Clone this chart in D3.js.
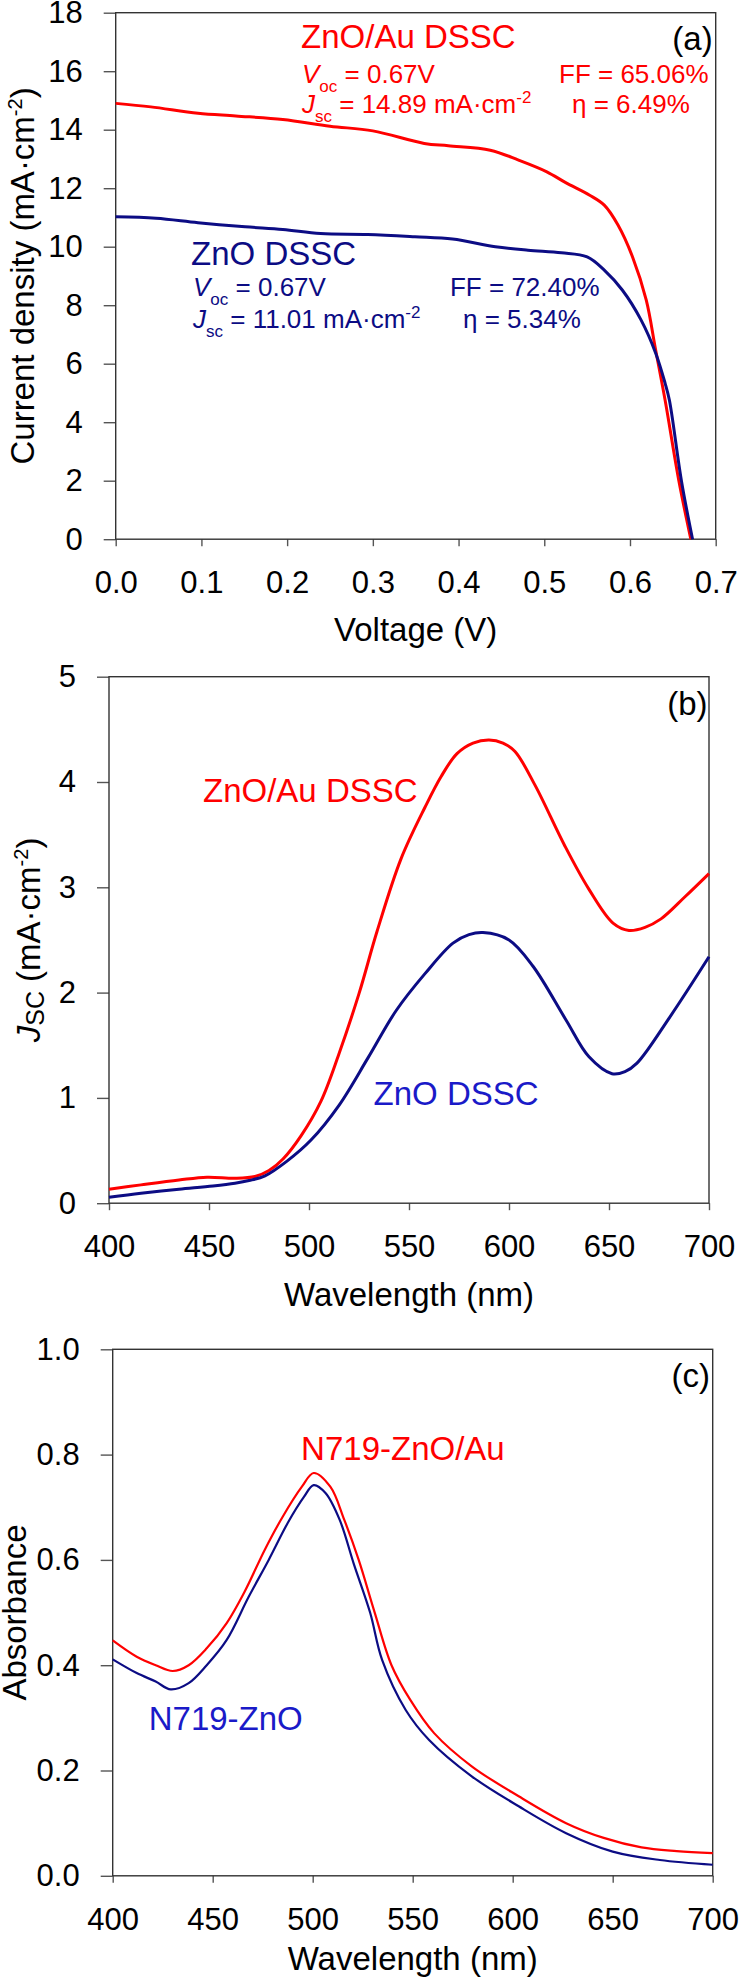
<!DOCTYPE html>
<html>
<head>
<meta charset="utf-8">
<script src="https://cdn.jsdelivr.net/npm/d3@7"></script>
<style>
  body { margin: 0; background: #fff; }
  svg { display: block; }
</style>
</head>
<body>
<div id="chart"></div>
<script>
// (a) J-V curves
const jvVoltageAu  = [0, 0.041, 0.096, 0.140, 0.195, 0.250, 0.300, 0.360, 0.388, 0.437, 0.470, 0.503, 0.525, 0.553, 0.570, 0.586, 0.603, 0.619, 0.630, 0.641, 0.657, 0.671];
const jvCurrentAu  = [14.90, 14.78, 14.56, 14.47, 14.35, 14.12, 13.96, 13.53, 13.45, 13.30, 12.96, 12.56, 12.19, 11.76, 11.42, 10.74, 9.65, 8.17, 6.46, 4.75, 2.0, 0];
const jvVoltageZnO = [0, 0.047, 0.096, 0.151, 0.195, 0.239, 0.294, 0.349, 0.393, 0.443, 0.481, 0.520, 0.550, 0.570, 0.591, 0.613, 0.630, 0.641, 0.646, 0.660, 0.673];
const jvCurrentZnO = [11.02, 10.97, 10.82, 10.68, 10.59, 10.45, 10.42, 10.34, 10.26, 10.00, 9.88, 9.79, 9.65, 9.20, 8.52, 7.49, 6.36, 5.33, 4.75, 2.0, 0];

// (b) Jsc spectra
const jscWaveAu  = [400, 416, 435, 449, 463, 473, 480, 487, 496, 506, 515, 525, 534, 546, 558, 566, 574, 582, 590, 597, 603, 613, 628, 640, 652, 660, 668, 676, 688, 700];
const jscAu      = [0.133, 0.174, 0.22, 0.247, 0.237, 0.253, 0.31, 0.42, 0.64, 0.97, 1.42, 1.99, 2.58, 3.27, 3.76, 4.05, 4.27, 4.37, 4.40, 4.37, 4.29, 3.97, 3.39, 2.98, 2.66, 2.59, 2.62, 2.70, 2.91, 3.13];
const jscWaveZnO = [400, 416, 435, 452, 463, 470, 478, 489, 501, 515, 529.5, 543.6, 558, 572, 580, 587, 600, 612, 628.5, 640, 651.5, 658, 664, 680.5, 700];
const jscZnO     = [0.057, 0.095, 0.133, 0.164, 0.19, 0.215, 0.26, 0.40, 0.60, 0.93, 1.38, 1.83, 2.18, 2.47, 2.55, 2.57, 2.50, 2.25, 1.74, 1.39, 1.23, 1.25, 1.33, 1.77, 2.34];

// (c) absorbance
const absWaveAu  = [400, 412, 421.5, 430, 438, 447, 457, 466, 476, 485, 494.6, 500.5, 508.8, 515.8, 523, 531, 539.4, 548.8, 560.7, 579.5, 603, 626.7, 645.5, 664.4, 682, 700];
const absAu      = [0.447, 0.416, 0.40, 0.389, 0.40, 0.432, 0.48, 0.54, 0.619, 0.682, 0.739, 0.765, 0.739, 0.676, 0.60, 0.50, 0.40, 0.334, 0.271, 0.208, 0.151, 0.10, 0.072, 0.054, 0.047, 0.043];
const absWaveZnO = [400, 412, 421.5, 429, 438, 447, 457, 468, 478, 487.5, 495.7, 500.5, 506.4, 513.5, 520.5, 528.7, 534.7, 546.5, 558.2, 579.5, 603, 626.7, 650, 673.6, 700];
const absZnO     = [0.411, 0.385, 0.369, 0.354, 0.366, 0.40, 0.448, 0.53, 0.60, 0.67, 0.72, 0.742, 0.727, 0.676, 0.593, 0.50, 0.41, 0.315, 0.258, 0.189, 0.132, 0.081, 0.046, 0.030, 0.021];

// ticks
const voltTicks = [0, 0.1, 0.2, 0.3, 0.4, 0.5, 0.6, 0.7];
const currTicks = [0, 2, 4, 6, 8, 10, 12, 14, 16, 18];
const waveTicks = [400, 450, 500, 550, 600, 650, 700];
const jscTicks  = [0, 1, 2, 3, 4, 5];
const absTicks  = [0, 0.2, 0.4, 0.6, 0.8, 1.0];

const FONT = '"Liberation Sans", Arial, Helvetica, sans-serif';
const RED = "#ff0000", NAVY = "#0c0c84", BLUE = "#1a1ac8";
const W = 600, H = 526.5;

const svg = d3.select("#chart").append("svg")
  .attr("width", 739)
  .attr("height", 1979)
  .attr("font-family", FONT);

// text made of pieces, some italic / sub / superscript
const rich = (sel, parts, size) => {
  let cur = 0;
  parts.forEach(p => {
    const b = p.b || 0;
    sel.append("tspan")
      .attr("dy", b - cur)
      .attr("font-size", p.s || size)
      .attr("font-style", p.i ? "italic" : null)
      .text(p.t);
    cur = b;
  });
  return sel;
};

const panel = (o) => {
  const g = svg.append("g").attr("transform", `translate(${o.left},${o.top})`);
  const x = d3.scaleLinear().domain(o.xDomain).range([0, W]);
  const y = d3.scaleLinear().domain(o.yDomain).range([H, 0]);

  g.append("g")
    .attr("transform", `translate(0,${H})`)
    .call(d3.axisBottom(x).tickValues(o.xTicks).tickFormat(o.xFmt).tickSize(7).tickPadding(25))
    .call(a => {
      a.select(".domain").remove();
      a.attr("font-family", FONT).attr("font-size", 31);
      a.selectAll("line").attr("stroke", "#555").attr("stroke-width", 1.4);
      a.selectAll("text").attr("fill", "#000");
    });

  g.append("g")
    .call(d3.axisLeft(y).tickValues(o.yTicks).tickFormat(o.yFmt).tickSize(12).tickPadding(21))
    .call(a => {
      a.select(".domain").remove();
      a.attr("font-family", FONT).attr("font-size", 31);
      a.selectAll("line").attr("stroke", "#555").attr("stroke-width", 1.4);
      a.selectAll("text").attr("fill", "#000");
    });

  g.append("rect")
    .attr("width", W)
    .attr("height", H)
    .attr("fill", "none")
    .attr("stroke", "#333")
    .attr("stroke-width", 1.4);

  g.append("text")
    .attr("x", W / 2)
    .attr("y", H + o.xTitleGap)
    .attr("text-anchor", "middle")
    .attr("font-size", 33)
    .text(o.xTitle);

  rich(svg.append("text")
    .attr("transform", `translate(${o.yTitleX},${o.top + H / 2}) rotate(-90)`)
    .attr("text-anchor", "middle"), o.yTitle, 33);

  g.append("text")
    .attr("x", W - o.tagDx)
    .attr("y", o.tagDy)
    .attr("text-anchor", "end")
    .attr("font-size", 33)
    .text(o.tag);

  return { g, x, y };
};

const drawLine = (p, xs, ys, color, width) => {
  const line = d3.line()
    .x(d => p.x(d[0]))
    .y(d => p.y(d[1]))
    .curve(d3.curveCatmullRom.alpha(0.5));
  p.g.append("path")
    .datum(xs.map((v, i) => [v, ys[i]]))
    .attr("d", line)
    .attr("fill", "none")
    .attr("stroke", color)
    .attr("stroke-width", width)
    .attr("stroke-linejoin", "round");
};

const label = (p, xv, yv, parts, size, color) => {
  rich(p.g.append("text")
    .attr("x", p.x(xv))
    .attr("y", p.y(yv))
    .attr("fill", color), parts, size);
};

// ---------- (a) ----------
const pa = panel({
  left: 115.7, top: 12.7,
  xDomain: [0, 0.7], yDomain: [0, 18],
  xTicks: voltTicks, yTicks: currTicks,
  xFmt: d3.format(".1f"), yFmt: d3.format("d"),
  xTitle: "Voltage (V)", xTitleGap: 102,
  yTitle: [{ t: "Current density (mA·cm" }, { t: "-2", s: 20, b: -12 }, { t: ")", b: 0 }],
  yTitleX: 34,
  tag: "(a)", tagDx: 3, tagDy: 37.5
});
drawLine(pa, jvVoltageAu, jvCurrentAu, RED, 3);
drawLine(pa, jvVoltageZnO, jvCurrentZnO, NAVY, 3);

label(pa, 0.2163, 16.78, [{ t: "ZnO/Au DSSC" }], 33, RED);
label(pa, 0.2174, 15.60, [{ t: "V", i: 1 }, { t: "oc", s: 17, b: 9 }, { t: " = 0.67V", b: 0 }], 26, RED);
label(pa, 0.5172, 15.60, [{ t: "FF = 65.06%" }], 26, RED);
label(pa, 0.2174, 14.57, [{ t: "J", i: 1 }, { t: "sc", s: 17, b: 9 }, { t: " = 14.89 mA·cm", b: 0 }, { t: "-2", s: 17, b: -10 }], 26, RED);
label(pa, 0.5324, 14.57, [{ t: "η = 6.49%" }], 26, RED);

label(pa, 0.0879, 9.37, [{ t: "ZnO DSSC" }], 33, NAVY);
label(pa, 0.0902, 8.31, [{ t: "V", i: 1 }, { t: "oc", s: 17, b: 9 }, { t: " = 0.67V", b: 0 }], 26, NAVY);
label(pa, 0.3900, 8.31, [{ t: "FF = 72.40%" }], 26, NAVY);
label(pa, 0.0902, 7.22, [{ t: "J", i: 1 }, { t: "sc", s: 17, b: 9 }, { t: " = 11.01 mA·cm", b: 0 }, { t: "-2", s: 17, b: -10 }], 26, NAVY);
label(pa, 0.4052, 7.22, [{ t: "η = 5.34%" }], 26, NAVY);

// ---------- (b) ----------
const pb = panel({
  left: 109, top: 676.7,
  xDomain: [400, 700], yDomain: [0, 5],
  xTicks: waveTicks, yTicks: jscTicks,
  xFmt: d3.format("d"), yFmt: d3.format("d"),
  xTitle: "Wavelength (nm)", xTitleGap: 103,
  yTitle: [{ t: "J", i: 1 }, { t: "SC", s: 25, b: 4 }, { t: " (mA·cm", b: 0 }, { t: "-2", s: 20, b: -12 }, { t: ")", b: 0 }],
  yTitleX: 40,
  tag: "(b)", tagDx: 1.5, tagDy: 38.3
});
drawLine(pb, jscWaveAu, jscAu, RED, 3);
drawLine(pb, jscWaveZnO, jscZnO, NAVY, 3);
label(pb, 447, 3.806, [{ t: "ZnO/Au DSSC" }], 33, RED);
label(pb, 532.3, 0.933, [{ t: "ZnO DSSC" }], 33, BLUE);

// ---------- (c) ----------
const pc = panel({
  left: 112.7, top: 1349.3,
  xDomain: [400, 700], yDomain: [0, 1],
  xTicks: waveTicks, yTicks: absTicks,
  xFmt: d3.format("d"), yFmt: d3.format(".1f"),
  xTitle: "Wavelength (nm)", xTitleGap: 94,
  yTitle: [{ t: "Absorbance" }],
  yTitleX: 26,
  tag: "(c)", tagDx: 2.7, tagDy: 37.7
});
drawLine(pc, absWaveAu, absAu, RED, 2.2);
drawLine(pc, absWaveZnO, absZnO, NAVY, 2.2);
label(pc, 494.2, 0.790, [{ t: "N719-ZnO/Au" }], 33, RED);
label(pc, 418, 0.277, [{ t: "N719-ZnO" }], 33, BLUE);
</script>
</body>
</html>
